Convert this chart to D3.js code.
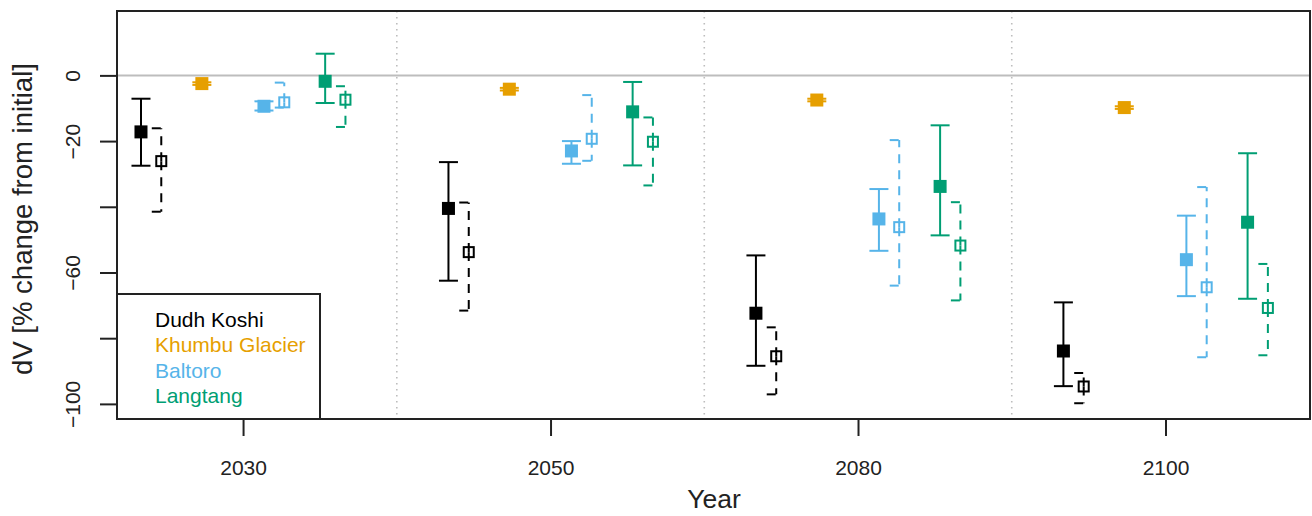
<!DOCTYPE html>
<html>
<head>
<meta charset="utf-8">
<script src="https://cdn.jsdelivr.net/npm/d3@7"></script>
<style>
  html, body { margin: 0; padding: 0; background: #fff; }
  svg { display: block; font-family: "Liberation Sans", Arial, Helvetica, sans-serif; }
</style>
</head>
<body>
<svg id="chart" width="1312" height="516"></svg>
<script>
// ---------------- data ----------------
const years = ["2030", "2050", "2080", "2100"];
const glaciers = ["Dudh Koshi", "Khumbu Glacier", "Baltoro", "Langtang"];
const colors = ["#000000", "#E69F00", "#56B4E9", "#009E73"];
const yTicks = [0, -20, -40, -60, -80, -100];
const yTickLabels = ["0", "\u221220", "", "\u221260", "", "\u2212100"];

// filled-square series: [value, low, high] per year
const dudhSolid    = [[-17.2, -27.5, -7.1], [-40.5, -62.5, -26.4], [-72.4, -88.4, -54.8], [-83.9, -94.6, -69.1]];
const khumbuSolid  = [[-2.5, -2.9, -2.1], [-4.2, -4.6, -3.8], [-7.5, -7.9, -7.1], [-9.8, -10.2, -9.4]];
const baltoroSolid = [[-9.4, -10.7, -7.9], [-23.0, -26.9, -20.0], [-43.7, -53.4, -34.6], [-56.1, -67.2, -42.7]];
const langtangSolid= [[-1.8, -8.4, 6.6], [-11.1, -27.4, -2.0], [-33.8, -48.7, -15.2], [-44.7, -68.0, -23.7]];

// open-square series (dashed): [value, low, high] per year
const dudhOpen     = [[-26.1, -41.5, -16.1], [-53.8, -71.6, -38.7], [-85.5, -97.1, -76.7], [-94.7, -99.8, -90.6]];
const baltoroOpen  = [[-8.2, -9.8, -2.2], [-19.3, -26.0, -6.0], [-46.2, -64.0, -19.7], [-64.5, -85.8, -34.0]];
const langtangOpen = [[-7.4, -15.7, -3.3], [-20.2, -33.5, -12.8], [-51.8, -68.5, -38.6], [-70.8, -85.2, -57.4]];

const solidSeries = [dudhSolid, khumbuSolid, baltoroSolid, langtangSolid];
const openSeries  = [dudhOpen, null, baltoroOpen, langtangOpen];
const seriesOffset = [-0.332, -0.134, 0.068, 0.267];
const openShift = 0.066;

// ---------------- layout ----------------
const svg = d3.select("#chart");
const L = 117, R = 1310, T = 11, B = 419;
const x = d3.scaleLinear().domain([0.59, 4.47]).range([L, R]);
const y = d3.scaleLinear().domain([-104.6, 19.6]).range([B, T]);

// separators
svg.append("g").selectAll("line").data([1.5, 2.5, 3.5]).join("line")
  .attr("x1", d => x(d)).attr("x2", d => x(d))
  .attr("y1", T).attr("y2", B)
  .attr("stroke", "#bdbdbd").attr("stroke-width", 1.6)
  .attr("stroke-dasharray", "1.6,4.4");

// zero line
svg.append("line")
  .attr("x1", L).attr("x2", R).attr("y1", y(0)).attr("y2", y(0))
  .attr("stroke", "#bdbdbd").attr("stroke-width", 2);

// axes
const yAxis = d3.axisLeft(y).tickValues(yTicks).tickSize(17).tickFormat((d, i) => yTickLabels[i]);
const gy = svg.append("g").attr("transform", `translate(${L},0)`).call(yAxis);
gy.select(".domain").remove();
gy.selectAll(".tick line").attr("stroke", "#222").attr("stroke-width", 2);
gy.selectAll(".tick text")
  .attr("x", null).attr("dy", null)
  .attr("transform", "translate(-37,0) rotate(-90)")
  .attr("text-anchor", "middle")
  .attr("font-size", 21).attr("fill", "#222")
  .attr("font-family", "Liberation Sans, Arial, sans-serif");

const xAxis = d3.axisBottom(x).tickValues([1, 2, 3, 4]).tickSize(17).tickFormat((d, i) => years[i]);
const gx = svg.append("g").attr("transform", `translate(0,${B})`).call(xAxis);
gx.select(".domain").remove();
gx.selectAll(".tick line").attr("stroke", "#222").attr("stroke-width", 2);
gx.selectAll(".tick text")
  .attr("y", 56).attr("dy", null)
  .attr("font-size", 21).attr("fill", "#222")
  .attr("font-family", "Liberation Sans, Arial, sans-serif");

// axis titles
svg.append("text").attr("x", 714).attr("y", 508)
  .attr("text-anchor", "middle").attr("font-size", 26.5).attr("fill", "#222").text("Year");
svg.append("text").attr("transform", "translate(32,219) rotate(-90)")
  .attr("text-anchor", "middle").attr("font-size", 27.5).attr("fill", "#222")
  .text("dV [% change from initial]");

// solid error bars + filled squares
const cap = 9.5;
solidSeries.forEach((ser, si) => {
  const g = svg.append("g");
  ser.forEach((d, yi) => {
    const cx = x(yi + 1 + seriesOffset[si]);
    const [v, lo, hi] = d;
    const col = colors[si];
    g.append("line").attr("x1", cx).attr("x2", cx).attr("y1", y(lo)).attr("y2", y(hi))
      .attr("stroke", col).attr("stroke-width", 2);
    [lo, hi].forEach(e => g.append("line")
      .attr("x1", cx - cap).attr("x2", cx + cap).attr("y1", y(e)).attr("y2", y(e))
      .attr("stroke", col).attr("stroke-width", 2));
    g.append("rect").attr("x", cx - 6.5).attr("y", y(v) - 6.5).attr("width", 13).attr("height", 13)
      .attr("fill", col);
  });
});

// open (dashed) error bars + open squares
openSeries.forEach((ser, si) => {
  if (!ser) return;
  const g = svg.append("g");
  ser.forEach((d, yi) => {
    const cx = x(yi + 1 + seriesOffset[si] + openShift);
    const [v, lo, hi] = d;
    const col = colors[si];
    [lo, hi].forEach(e => {
      g.append("line").attr("x1", cx).attr("x2", cx).attr("y1", y(v)).attr("y2", y(e))
        .attr("stroke", col).attr("stroke-width", 2).attr("stroke-dasharray", "9,7");
      g.append("line").attr("x1", cx - cap).attr("x2", cx + cap).attr("y1", y(e)).attr("y2", y(e))
        .attr("stroke", col).attr("stroke-width", 2).attr("stroke-dasharray", "9,10");
    });
    g.append("rect").attr("x", cx - 5).attr("y", y(v) - 5).attr("width", 10).attr("height", 10)
      .attr("fill", "none").attr("stroke", col).attr("stroke-width", 2);
  });
});

// legend
svg.append("rect").attr("x", L).attr("y", 294).attr("width", 320 - L).attr("height", B - 294)
  .attr("fill", "#fff").attr("stroke", "#222").attr("stroke-width", 2);
svg.append("g").selectAll("text").data(glaciers).join("text")
  .attr("x", 155).attr("y", (d, i) => 327 + i * 25.3)
  .attr("font-size", 21).attr("fill", (d, i) => colors[i]).text(d => d);

// frame
svg.append("rect").attr("x", L).attr("y", T).attr("width", R - L).attr("height", B - T)
  .attr("fill", "none").attr("stroke", "#222").attr("stroke-width", 2);
</script>
</body>
</html>
